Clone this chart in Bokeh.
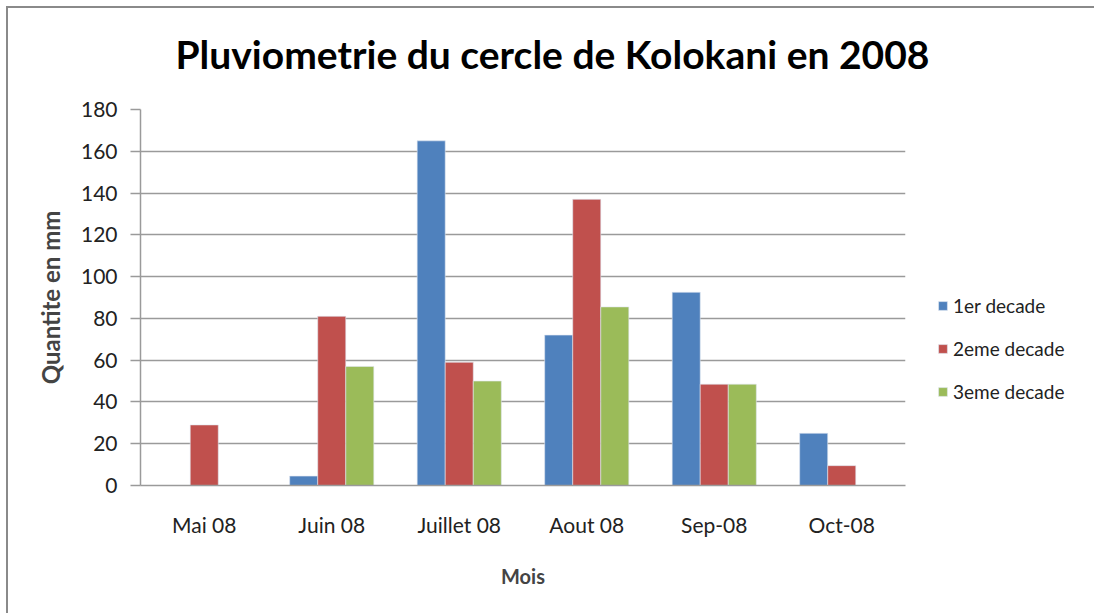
from bokeh.plotting import figure
from bokeh.models import ColumnDataSource, FactorRange, Legend, LegendItem, Title, SingleIntervalTicker
from bokeh.transform import dodge
from bokeh.embed import file_html
from bokeh.resources import INLINE

months = ["Mai 08", "Juin 08", "Juillet 08", "Aout 08", "Sep-08", "Oct-08"]
decade1 = [0, 4.5, 165, 72, 92.5, 25]
decade2 = [29, 81, 59, 137, 48.5, 9.5]
decade3 = [0, 57, 50, 85.5, 48.5, 0]
series_names = ["1er decade", "2eme decade", "3eme decade"]
colors = ["#4F81BD", "#C0504D", "#9BBB59"]

FONT = "Lato"
src = ColumnDataSource(dict(month=months, d1=decade1, d2=decade2, d3=decade3))

p = figure(x_range=FactorRange(*months), y_range=(0, 180),
           frame_width=765, frame_height=376, output_backend="svg", toolbar_location=None,
           min_border_left=132, min_border_right=189, min_border_top=96, min_border_bottom=128,
           margin=(6, 0, 0, 6))
p.title = None
p.styles = {"border-top": "2px solid #8a8a8a", "border-left": "2px solid #8a8a8a"}
p.outline_line_color = None

renderers = []
for key, off, col in zip(["d1", "d2", "d3"], [-0.22, 0.0, 0.22], colors):
    r = p.vbar(x=dodge("month", off, range=p.x_range), top=key, width=0.22, source=src,
               fill_color=col, line_color="#dfe6f0", line_width=0.6)
    renderers.append(r)

# spacer between title and frame, then the title
spacer = Title(text=" ", text_font_size="1px", standoff=10)
p.add_layout(spacer, "above")
t = Title(text="Pluviometrie du cercle de Kolokani en 2008", align="left",
          text_font=FONT, text_font_style="bold", text_font_size="39px", text_color="black",
          offset=35, standoff=40)
p.add_layout(t, "above")

# axes
p.yaxis.ticker = SingleIntervalTicker(interval=20)
p.yaxis.axis_line_color = "#9a9a9a"
p.yaxis.axis_line_width = 1.5
p.yaxis.major_tick_line_color = "#9a9a9a"
p.yaxis.major_tick_line_width = 1.5
p.yaxis.major_tick_out = 10
p.yaxis.major_tick_in = 0
p.yaxis.minor_tick_line_color = None
p.yaxis.major_label_text_font = FONT
p.yaxis.major_label_text_font_size = "21px"
p.yaxis.major_label_text_color = "#222222"
p.yaxis.major_label_standoff = 13
p.yaxis.axis_label = "Quantite en mm"
p.yaxis.axis_label_text_font = FONT
p.yaxis.axis_label_text_font_style = "bold"
p.yaxis.axis_label_text_font_size = "24px"
p.yaxis.axis_label_standoff = 13

p.xaxis.axis_line_color = "#9a9a9a"
p.xaxis.axis_line_width = 1.5
p.xaxis.major_tick_line_color = None
p.xaxis.minor_tick_line_color = None
p.xaxis.major_label_text_font = FONT
p.xaxis.major_label_text_font_size = "21px"
p.xaxis.major_label_text_color = "#222222"
p.xaxis.major_label_standoff = 20
p.xaxis.axis_label = "Mois"
p.xaxis.axis_label_text_font = FONT
p.xaxis.axis_label_text_font_style = "bold"
p.xaxis.axis_label_text_font_size = "20px"
p.xaxis.axis_label_standoff = 24

p.xgrid.grid_line_color = None
p.ygrid.grid_line_color = "#9a9a9a"
p.ygrid.grid_line_width = 1.5

legend = Legend(items=[LegendItem(label=n, renderers=[r]) for n, r in zip(series_names, renderers)],
                location="top_left", orientation="vertical",
                title=" ", title_text_font_size="1px", title_standoff=152,
                label_text_font=FONT, label_text_font_size="19px", label_text_color="#222222",
                glyph_width=11, glyph_height=11, label_height=20, label_standoff=5,
                spacing=20, padding=0, margin=32, border_line_color=None,
                background_fill_alpha=0)
p.add_layout(legend, "right")

open("out.html", "w").write(file_html(p, INLINE))
